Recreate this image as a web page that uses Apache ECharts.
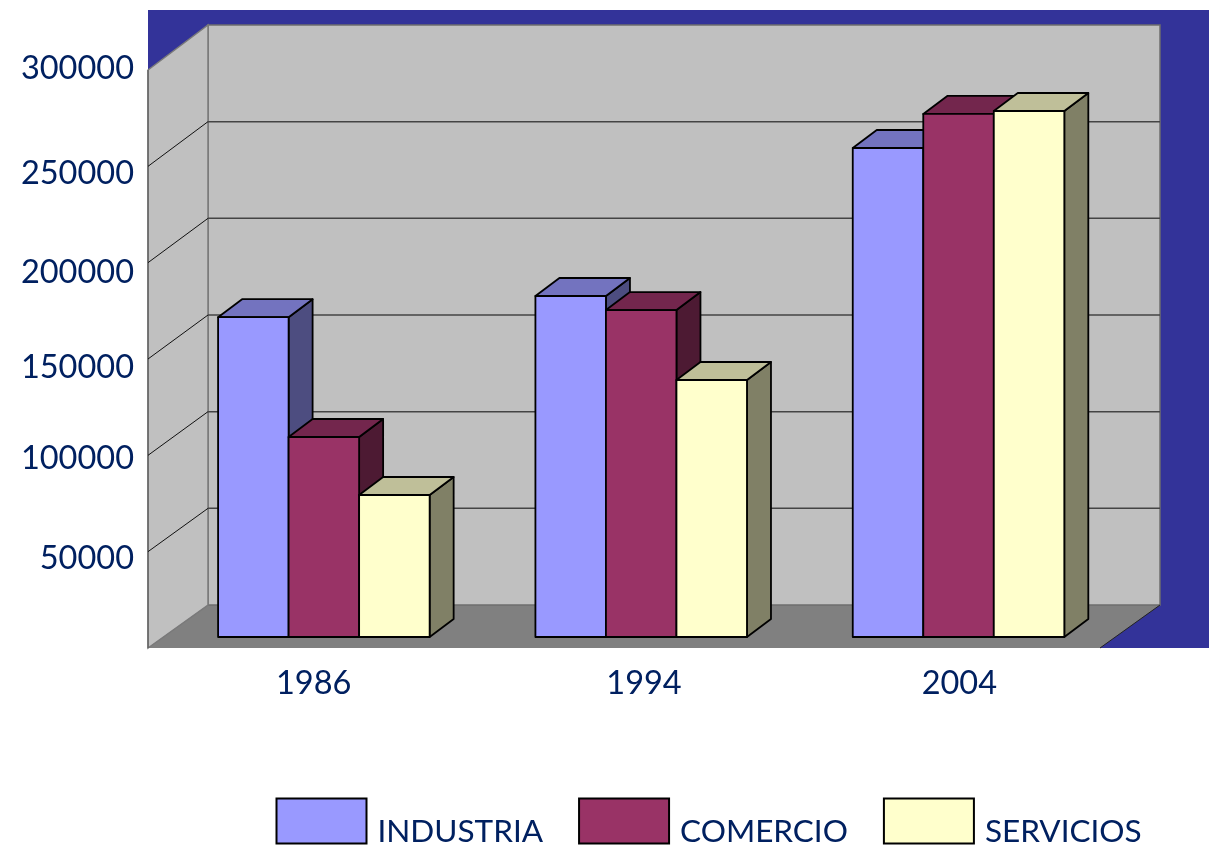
<!DOCTYPE html>
<html>
<head>
<meta charset="utf-8">
<style>
  html, body { margin: 0; padding: 0; background: #fff; }
  #main { width: 1209px; height: 847px; }
</style>
<script src="https://cdn.jsdelivr.net/npm/echarts@6/dist/echarts.min.js"></script>
</head>
<body>
<div id="main"></div>
<script>
const years = ['1986', '1994', '2004']
const yTicks = [0, 50000, 100000, 150000, 200000, 250000, 300000]
const industria = [166000, 177000, 253800]
const comercio = [103800, 169700, 271500]
const servicios = [73700, 133400, 273000]

const textColor = '#002060'
const fontFamily = 'Lato, "Open Sans", sans-serif'

// cara frontal, lateral y superior de cada barra
const shades = {
  INDUSTRIA: ['#9999FF', '#4D4D80', '#7373BF'],
  COMERCIO: ['#993366', '#4D1A33', '#73264D'],
  SERVICIOS: ['#FFFFCC', '#808066', '#BFBF99']
}

// profundidad de la caja y de las barras
const wallDx = 60
const wallDy = 43
const barDx = 24
const barDy = 18

const renderWalls = (params, api) => {
  const c = params.coordSys
  const x0 = c.x
  const x1 = c.x + c.width
  const yTop = c.y
  const yBot = c.y + c.height
  return {
    type: 'group',
    children: [
      { type: 'rect', shape: { x: x0, y: 10, width: 1209 - x0, height: yBot - 10 }, style: { fill: '#333399' } },
      {
        type: 'polygon',
        shape: { points: [[x0 + wallDx, yBot - wallDy], [x1 + wallDx, yBot - wallDy], [x1, yBot], [x0, yBot]] },
        style: { fill: '#808080' }
      },
      {
        type: 'rect',
        shape: { x: x0 + wallDx, y: 25, width: c.width, height: yBot - wallDy - 25 },
        style: { fill: '#C0C0C0', stroke: '#6E6E6E', lineWidth: 1.5 }
      },
      {
        type: 'polygon',
        shape: { points: [[x0, yTop], [x0 + wallDx, 25], [x0 + wallDx, yBot - wallDy], [x0, yBot]] },
        style: { fill: '#C0C0C0', stroke: '#7A7A7A', lineWidth: 1.5 }
      },
      {
        type: 'line',
        shape: { x1: x1, y1: yBot, x2: x1 + wallDx, y2: yBot - wallDy },
        style: { stroke: '#222', lineWidth: 1 }
      },
      {
        type: 'line',
        shape: { x1: x0, y1: yTop, x2: x0, y2: yBot },
        style: { stroke: '#555', lineWidth: 1 }
      }
    ]
  }
}

const renderGridLine = (params, api) => {
  const c = params.coordSys
  const v = api.value(0)
  if (v === 0 || v === 300000) return null
  const y = api.coord([0, v])[1]
  const yBack = c.y + c.height - wallDy - (c.y + c.height - y) * 580 / 578
  return {
    type: 'group',
    children: [
      {
        type: 'line',
        shape: { x1: c.x, y1: y, x2: c.x + wallDx, y2: yBack },
        style: { stroke: '#111', lineWidth: 1 }
      },
      {
        type: 'line',
        shape: { x1: c.x + wallDx, y1: yBack, x2: c.x + c.width + wallDx, y2: yBack },
        style: { stroke: '#444', lineWidth: 1.5 }
      }
    ]
  }
}

const barRenderer = (name, pos) => (params, api) => {
  const band = api.size([1, 0])[0]
  const w = band * (2 / 3) / 3
  const p = api.coord([api.value(0), api.value(1)])
  const base = api.coord([api.value(0), 0])[1]
  const x = p[0] + (pos - 1.5) * w
  const y = p[1]
  const [front, side, top] = shades[name]
  const line = { stroke: '#000', lineWidth: 1.8, lineJoin: 'round' }
  return {
    type: 'group',
    children: [
      {
        type: 'polygon',
        shape: { points: [[x + w, y], [x + w + barDx, y - barDy], [x + w + barDx, base - barDy], [x + w, base]] },
        style: { fill: side, ...line }
      },
      {
        type: 'polygon',
        shape: { points: [[x, y], [x + barDx, y - barDy], [x + w + barDx, y - barDy], [x + w, y]] },
        style: { fill: top, ...line }
      },
      {
        type: 'rect',
        shape: { x: x, y: y, width: w, height: base - y },
        style: { fill: front, ...line }
      }
    ]
  }
}

const barSeries = (name, values, pos) => ({
  name: name,
  type: 'custom',
  xAxisIndex: 1,
  yAxisIndex: 1,
  z: 3,
  silent: true,
  itemStyle: { color: shades[name][0] },
  renderItem: barRenderer(name, pos),
  encode: { x: 0, y: 1 },
  data: values.map((v, i) => [i, v])
})

// las etiquetas del original no caen justo en las marcas
const yLabelStyle = (value) => {
  const key = { 300000: 'a', 250000: 'b', 200000: 'c', 150000: 'd', 100000: 'e', 50000: 'f' }
  return key[value]
}
const yRich = {
  a: { padding: [0, 0, 2, 0] },
  b: { padding: [14, 0, 0, 0] },
  c: { padding: [20, 0, 0, 0] },
  d: { padding: [18, 0, 0, 0] },
  e: { padding: [6, 0, 0, 0] },
  f: { padding: [13, 0, 0, 0] }
}
const xRich = {
  y0: { padding: [0, 0, 0, 14] },
  y1: { padding: [0, 0, 0, 40] },
  y2: { padding: [0, 0, 0, 36] }
}

const myChart = echarts.init(document.getElementById('main'))
const option = {
  animation: false,
  backgroundColor: '#fff',
  textStyle: { fontFamily: fontFamily },
  legend: {
    left: 275.5,
    top: 797.5,
    padding: 0,
    itemWidth: 90,
    itemHeight: 45,
    itemGap: 35,
    icon: 'rect',
    selectedMode: false,
    itemStyle: { borderColor: '#000', borderWidth: 2 },
    formatter: (name) => '{t|' + name + '}',
    textStyle: {
      color: textColor,
      fontFamily: fontFamily,
      fontSize: 31.5,
      rich: {
        t: {
          color: textColor,
          fontFamily: fontFamily,
          fontSize: 31.5,
          width: 168,
          padding: [21, 0, 0, 6]
        }
      }
    },
    data: ['INDUSTRIA', 'COMERCIO', 'SERVICIOS']
  },
  grid: [
    { left: 148, right: 109, top: 70, bottom: 199 },
    { left: 165.2, right: 91.8, top: 59, bottom: 210 }
  ],
  xAxis: [
    {
      type: 'category',
      data: years,
      axisLine: { show: false },
      axisTick: { show: false },
      axisLabel: {
        margin: 19,
        color: textColor,
        fontSize: 32.5,
        fontFamily: fontFamily,
        formatter: (value, index) => '{y' + index + '|' + value + '}',
        rich: xRich
      }
    },
    { type: 'category', gridIndex: 1, data: years, show: false }
  ],
  yAxis: [
    {
      type: 'value',
      min: 0,
      max: 300000,
      interval: 50000,
      axisLine: { show: false },
      axisTick: { show: false },
      splitLine: { show: false },
      axisLabel: {
        margin: 14,
        color: textColor,
        fontSize: 32.5,
        fontFamily: fontFamily,
        formatter: (value) => (yTicks.indexOf(value) > 0 ? '{' + yLabelStyle(value) + '|' + value + '}' : ''),
        rich: yRich
      }
    },
    { type: 'value', gridIndex: 1, min: 0, max: 300000, interval: 50000, show: false }
  ],
  series: [
    {
      name: 'walls',
      type: 'custom',
      z: 1,
      silent: true,
      renderItem: renderWalls,
      data: [[0, 0]]
    },
    {
      name: 'gridLines',
      type: 'custom',
      z: 2,
      silent: true,
      renderItem: renderGridLine,
      encode: { y: 0 },
      data: yTicks.map((v) => [v])
    },
    barSeries('INDUSTRIA', industria, 0),
    barSeries('COMERCIO', comercio, 1),
    barSeries('SERVICIOS', servicios, 2)
  ]
}
myChart.setOption(option)
</script>
</body>
</html>
